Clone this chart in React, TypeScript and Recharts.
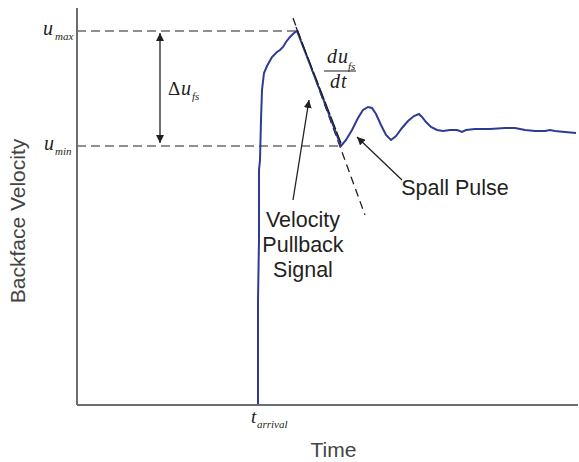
import React from 'react';
import { LineChart, Line, XAxis, YAxis, ReferenceLine, Label } from 'recharts';

// trace: time (px from axis) vs backface velocity (px from baseline)
const time = [
  181, 181, 182, 182, 183, 184, 185, 187, 190, 195, 200, 203, 206, 209, 213, 217, 220,
  242, 264, 269, 275, 281, 286, 291, 295, 299, 304, 309, 314, 319, 325, 331, 337, 342,
  345, 349, 354, 360, 366, 373, 380, 385, 389, 398, 413, 428, 438, 448, 458, 468, 473,
  478, 488, 499,
];
const velocity = [
  0, 105, 165, 235, 245, 285, 315, 332, 339, 348, 353, 355, 358, 363, 368, 372, 374,
  317, 259, 265, 275, 287, 295, 298, 297, 291, 280, 270, 265, 269, 277, 284, 289, 291,
  288, 283, 278, 275, 274, 275, 275, 273, 275, 276, 276, 277, 277, 275, 274, 274, 275,
  274, 273, 272,
];

const uMax = 374;
const uMin = 259;
const tPeak = 220;
const tTrough = 264;
const tangent = [
  { x: 216, y: 387 },
  { x: 288, y: 190 },
];
const deltaArrow = [
  { x: 83, y: 372 },
  { x: 83, y: 262 },
];
const pullbackArrow = [
  { x: 216, y: 205 },
  { x: 232, y: 305 },
];
const spallArrow = [
  { x: 325, y: 225 },
  { x: 280, y: 268 },
];

const data = time.map((t, i) => ({ t, v: velocity[i] }));

const serif = '"Liberation Serif", "DejaVu Serif", serif';
const sans = '"Liberation Sans", Arial, sans-serif';
const ink = '#231f20';

const arrowShape = (start: boolean) => (props: any) => (
  <line
    x1={props.x1}
    y1={props.y1}
    x2={props.x2}
    y2={props.y2}
    stroke={ink}
    strokeWidth={1.3}
    markerEnd="url(#head)"
    markerStart={start ? 'url(#headStart)' : undefined}
  />
);

export default function App() {
  return (
    <div style={{ position: 'absolute', left: 0, top: 0, background: '#fff' }}>
      <LineChart width={579} height={462} data={data} margin={{ top: 8, right: 1, left: 0, bottom: 0 }}>
        <defs>
          <marker id="head" viewBox="0 0 10 10" refX="10" refY="5" markerWidth="8" markerHeight="8" markerUnits="userSpaceOnUse" orient="auto">
            <path d="M0,0 L10,5 L0,10 z" fill={ink} />
          </marker>
          <marker id="headStart" viewBox="0 0 10 10" refX="0" refY="5" markerWidth="8" markerHeight="8" markerUnits="userSpaceOnUse" orient="auto">
            <path d="M10,0 L0,5 L10,10 z" fill={ink} />
          </marker>
        </defs>
        <XAxis
          type="number"
          dataKey="t"
          domain={[0, 501]}
          tick={false}
          tickLine={false}
          height={57}
          axisLine={{ stroke: '#6d6d6d', strokeWidth: 2 }}
        >
          <Label
            value="Time"
            position="insideBottom"
            offset={5}
            dx={6}
            style={{ fontFamily: sans, fontSize: 21, fill: '#444' }}
          />
        </XAxis>
        <YAxis
          type="number"
          domain={[0, 397]}
          tick={false}
          tickLine={false}
          width={77}
          axisLine={{ stroke: '#6d6d6d', strokeWidth: 2 }}
        />
        <ReferenceLine segment={[{ x: 0, y: uMax }, { x: tPeak, y: uMax }]} stroke={ink} strokeWidth={1.2} strokeDasharray="9 5" />
        <ReferenceLine segment={[{ x: 0, y: uMin }, { x: tTrough, y: uMin }]} stroke={ink} strokeWidth={1.2} strokeDasharray="9 5" />
        <ReferenceLine segment={tangent} stroke={ink} strokeWidth={1.3} strokeDasharray="8 5" />
        <Line
          type="linear"
          dataKey="v"
          stroke="#2c3c94"
          strokeWidth={2}
          dot={false}
          isAnimationActive={false}
        />
        <ReferenceLine segment={[{ x: tPeak - 1, y: 378 }, { x: tTrough, y: uMin + 3 }]} stroke={ink} strokeWidth={1.3} strokeDasharray="14 2" />
        <ReferenceLine segment={deltaArrow} shape={arrowShape(true)} />
        <ReferenceLine segment={pullbackArrow} shape={arrowShape(false)} />
        <ReferenceLine segment={spallArrow} shape={arrowShape(false)} />

        <text
          transform="translate(25,221) rotate(-90)"
          textAnchor="middle"
          fontFamily={sans}
          fontSize={21}
          fill="#444"
        >
          Backface Velocity
        </text>
        <g fontFamily={serif} fontStyle="italic" fill={ink}>
          <text x={43} y={35} fontSize={20}>u</text>
          <text x={55} y={40} fontSize={11}>max</text>
          <text x={44} y={150} fontSize={20}>u</text>
          <text x={55} y={155} fontSize={11}>min</text>
          <text x={168} y={95} fontSize={19} fontStyle="normal">Δ</text>
          <text x={181} y={95} fontSize={20}>u</text>
          <text x={192} y={100} fontSize={11}>fs</text>
          <text x={327} y={63} fontSize={20} letterSpacing={1}>du</text>
          <text x={348} y={70} fontSize={11}>fs</text>
          <line x1={324} y1={71} x2={356} y2={71} stroke={ink} strokeWidth={1} />
          <text x={330} y={88} fontSize={20} letterSpacing={1}>dt</text>
          <text x={251} y={423} fontSize={19}>t</text>
          <text x={257} y={428} fontSize={11}>arrival</text>
        </g>
        <g fontFamily={sans} fontSize={21.5} fill={ink} textAnchor="middle">
          <text x={303} y={227}>Velocity</text>
          <text x={303} y={252}>Pullback</text>
          <text x={303} y={277}>Signal</text>
          <text x={455} y={195}>Spall Pulse</text>
        </g>
      </LineChart>
    </div>
  );
}
